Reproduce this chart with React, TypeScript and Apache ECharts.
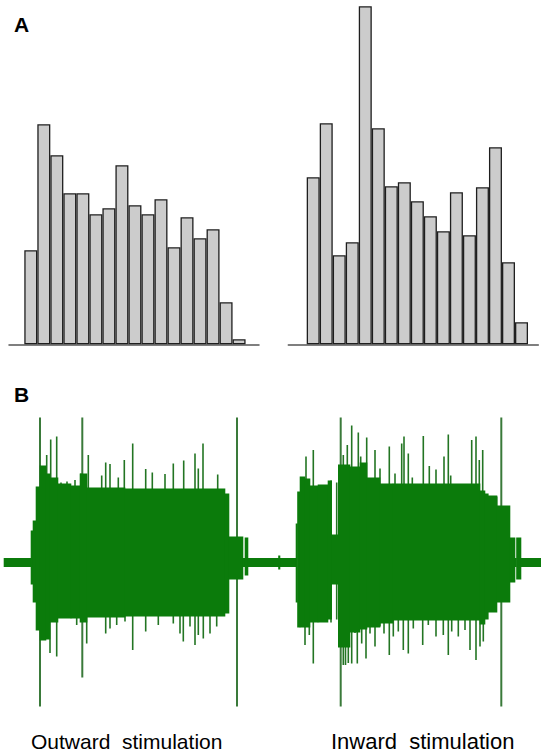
import React, { useEffect, useRef } from "react";
import * as echarts from "echarts";

// ---------- Panel A: histograms ----------
const BINS = [1, 2, 3, 4, 5, 6, 7, 8, 9, 10, 11, 12, 13, 14, 15, 16, 17];
const OUTWARD_COUNTS = [94, 220, 189, 151, 151, 130, 136, 179, 139, 130, 145, 97, 127, 106, 115, 42, 5];
const INWARD_COUNTS = [167, 221, 89, 102, 338, 216, 158, 162, 143, 128, 113, 152, 109, 157, 197, 82, 22];

// ---------- Panel B: recorded waveform (time, amplitude) ----------
// envelope blocks: [tStart, tEnd, upper, lower]
const WAVE_SEGMENTS = [
  [4, 31, 4.5, -4.5],
  [31, 33, 32, -22],
  [33, 36, 42, -40],
  [36, 40, 76, -68],
  [40, 46, 97, -78],
  [46, 50, 89, -77],
  [50, 58, 85, -60],
  [58, 71, 79, -56],
  [71, 80, 77, -56],
  [80, 87, 89, -60],
  [87, 125, 75, -55],
  [125, 225, 74, -54],
  [225, 229, 69, -51],
  [229, 243, 26, -17],
  [243, 245, 4.5, -4.5],
  [245, 248, 25, -13],
  [248, 296, 4.5, -4.5],
  [278.5, 280, 7, -7],
  [296, 297.5, 39, -40],
  [297.5, 300, 71, -65],
  [300, 305, 86, -65],
  [305, 310, 84, -65],
  [310, 318, 77, -60],
  [318, 328, 78, -60],
  [328, 331.7, 82, -57],
  [331.7, 338.3, 28, -22],
  [338.3, 350, 98, -85],
  [350, 360, 96, -70],
  [360, 367, 100, -67],
  [367, 380, 85, -65],
  [380, 393, 79, -61],
  [393, 480, 79, -58],
  [480, 485, 72, -62],
  [485, 488.3, 69, -57],
  [488.3, 497, 67, -50],
  [497, 510, 57, -40],
  [510, 515, 25, -20],
  [515, 516.5, 4.5, -4.5],
  [516.5, 521, 25, -17],
  [521, 541, 4.5, -4.5],
];

// spikes above the envelope: [time, peak]
const UPPER_SPIKES = [
  [44, 95], [46.7, 107.5], [50.7, 123], [56.7, 126], [61, 80], [67, 81], [75, 82.5], [81, 89],
  [88.3, 107.5], [101.7, 87], [105.7, 100], [110, 98.5], [118.3, 85], [124.3, 102.5],
  [132.7, 119], [145.7, 93.5], [152.3, 90], [165, 88.5], [173.3, 99], [183.7, 102],
  [195, 109], [198.3, 94], [203, 119], [217.7, 88],
  [306, 106], [313.3, 112.5], [343.3, 107.5], [347.3, 117.5], [351.7, 137], [358.3, 130],
  [360.7, 106], [366.7, 125], [375, 112.5], [380, 94], [389.3, 116], [395, 89],
  [401.7, 119], [404, 126], [408.3, 109], [412.3, 85], [423.3, 126.5], [429.3, 96.5],
  [436, 93], [444, 106], [448.3, 128], [450.7, 87], [471.7, 122.5], [476, 126],
  [479.3, 102.5], [482.7, 112.5], [496.7, 66],
];

// spikes below the envelope: [time, trough]
const LOWER_SPIKES = [
  [45.7, -75.5], [50, -90.5], [56.7, -94], [76.7, -62.5], [86.7, -81], [105.7, -71],
  [110, -66], [116.7, -62.5], [125, -59], [132.7, -87.5], [145.7, -69], [158.3, -62.5],
  [173.3, -61], [180, -71], [183.3, -79], [190, -64], [195, -82.5], [198.3, -72.5],
  [203.3, -76], [210, -71], [216.7, -64],
  [305, -82.5], [309.3, -72.5], [313.3, -101], [343.3, -102.5], [345.5, -102.5],
  [348.3, -100.5], [351.7, -101], [355, -70.5], [357.3, -101], [361.7, -81], [366, -96],
  [370, -71], [375, -84], [380, -64], [384, -71], [389.3, -92.5], [393.3, -74],
  [398.3, -69], [403.3, -87.5], [408.3, -91], [413.3, -66], [422.7, -82.5], [428.3, -62.5],
  [436, -74], [443.3, -72.5], [448.3, -92.5], [451.7, -69], [458.3, -74], [465, -67.5],
  [470, -87.5], [476, -97.5], [480, -84], [483.3, -79],
];

// isolated full strokes: [time, top, bottom]
const GAP_STROKES = [[331, 82, -60], [336.7, 80, -57]];
const STIM_MARKERS = [[40, 145, -144], [82.3, 145, -115], [237, 145, -144], [340.7, 145, -144], [501.3, 145, -144]];

const PANEL_LABELS = ["A", "B"];
const CAPTIONS = ["Outward  stimulation", "Inward  stimulation"];

const GREEN = "#0b7b0b";
const SPIKE = "#237523";
const MARKER = "#3a7a3a";

export default function App() {
  const ref = useRef<HTMLDivElement>(null);

  useEffect(() => {
    if (!ref.current) return;
    const chart = echarts.init(ref.current, null, { renderer: "svg" });

    const hiddenY = (max: number, idx: number) => ({
      type: "value" as const,
      gridIndex: idx,
      min: 0,
      max,
      show: false,
    });
    const baseX = (idx: number, min: number, max: number) => ({
      type: "value" as const,
      gridIndex: idx,
      min,
      max,
      axisLine: { show: true, lineStyle: { color: "#555", width: 1.5 } },
      axisTick: { show: false },
      axisLabel: { show: false },
      splitLine: { show: false },
    });

    const barStyle = { color: "#cccccc", borderColor: "#1e1e1e", borderWidth: 1.3 };

    const segRender = (params: any, api: any) => {
      const p0 = api.coord([api.value(0), api.value(2)]);
      const p1 = api.coord([api.value(1), api.value(3)]);
      return {
        type: "rect",
        shape: { x: p0[0] - 0.3, y: p0[1], width: p1[0] - p0[0] + 0.6, height: p1[1] - p0[1] },
        style: { fill: GREEN },
      };
    };
    const strokeRender = (color: string, w: number) => (params: any, api: any) => {
      const p0 = api.coord([api.value(0), api.value(1)]);
      const p1 = api.coord([api.value(0), api.value(2)]);
      return {
        type: "line",
        shape: { x1: p0[0], y1: p0[1], x2: p1[0], y2: p1[1] },
        style: { stroke: color, lineWidth: w },
      };
    };

    const upper = UPPER_SPIKES.map(([t, a]) => [t, a, 0]);
    const lower = LOWER_SPIKES.map(([t, a]) => [t, 0, a]);

    const textStyle = (text: string, font: string) => ({
      text,
      font,
      fill: "#000",
      align: "left",
      verticalAlign: "middle",
    });

    chart.setOption({
      animation: false,
      backgroundColor: "#ffffff",
      grid: [
        { left: 9, width: 250, top: 0, height: 344.3 },
        { left: 288.3, width: 250, top: 0, height: 344.3 },
        { left: 0, width: 541, top: 412.5, height: 300 },
      ],
      xAxis: [
        baseX(0, -0.675, 18.53),
        baseX(1, -0.913, 18.29),
        { type: "value", gridIndex: 2, min: 0, max: 541, show: false },
      ],
      yAxis: [
        hiddenY(344.3, 0),
        hiddenY(344.3, 1),
        { type: "value", gridIndex: 2, min: -150, max: 150, show: false },
      ],
      series: [
        {
          type: "bar",
          xAxisIndex: 0,
          yAxisIndex: 0,
          barWidth: 13,
          data: BINS.map((b, i) => [b, OUTWARD_COUNTS[i]]),
          itemStyle: barStyle,
        },
        {
          type: "bar",
          xAxisIndex: 1,
          yAxisIndex: 1,
          barWidth: 13,
          data: BINS.map((b, i) => [b, INWARD_COUNTS[i]]),
          itemStyle: barStyle,
        },
        {
          type: "custom",
          xAxisIndex: 2,
          yAxisIndex: 2,
          z: 2,
          renderItem: strokeRender(SPIKE, 1.6),
          encode: { x: 0, y: [1, 2] },
          data: [...upper, ...lower, ...GAP_STROKES],
        },
        {
          type: "custom",
          xAxisIndex: 2,
          yAxisIndex: 2,
          z: 3,
          renderItem: strokeRender(MARKER, 2),
          encode: { x: 0, y: [1, 2] },
          data: STIM_MARKERS,
        },
        {
          type: "custom",
          xAxisIndex: 2,
          yAxisIndex: 2,
          z: 4,
          renderItem: segRender,
          encode: { x: [0, 1], y: [2, 3] },
          data: WAVE_SEGMENTS,
        },
      ],
      graphic: [
        { type: "text", x: 14, y: 24.5, style: textStyle(PANEL_LABELS[0], 'bold 21px "Liberation Sans", Arial, sans-serif') },
        { type: "text", x: 14, y: 394, style: textStyle(PANEL_LABELS[1], 'bold 21px "Liberation Sans", Arial, sans-serif') },
        { type: "text", x: 31, y: 741.5, style: textStyle(CAPTIONS[0], '21px "Liberation Sans", Arial, sans-serif') },
        { type: "text", x: 331, y: 741.5, style: textStyle(CAPTIONS[1], '22px "Liberation Sans", Arial, sans-serif') },
      ],
    });

    return () => chart.dispose();
  }, []);

  return (
    <div
      ref={ref}
      style={{ position: "absolute", left: 0, top: 0, width: 541, height: 755 }}
    />
  );
}
